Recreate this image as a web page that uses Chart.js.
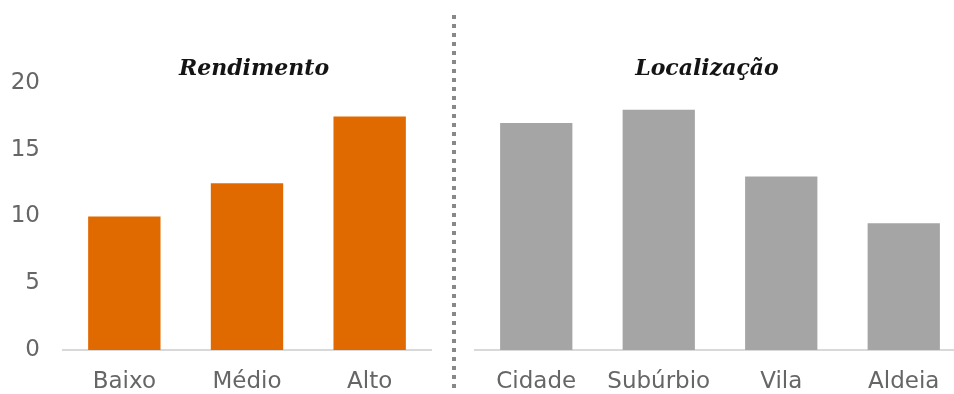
<!DOCTYPE html>
<html>
<head>
<meta charset="utf-8">
<script src="https://cdn.jsdelivr.net/npm/chart.js@4"></script>
<style>
    html, body { margin: 0; padding: 0; background: #fff; overflow: hidden; }
    #stage { position: relative; width: 954px; height: 394px; overflow: hidden; }
    canvas { position: absolute; top: 0; }
    #leftChart { left: 0; }
    #rightChart { left: 453px; }
    .panelTitle {
        position: absolute; top: 56px; transform: translateX(-50%);
        font: italic bold 22px "DejaVu Serif", serif; line-height: 1;
        color: #141414; white-space: nowrap;
    }
    #divider {
        position: absolute; left: 452px; top: 15px; width: 4px; height: 375px;
        background: repeating-linear-gradient(to bottom, #888 0 4px, transparent 4px 9px);
    }
</style>
</head>
<body>
<div id="stage">
    <canvas id="leftChart" width="440" height="394"></canvas>
    <canvas id="rightChart" width="520" height="394"></canvas>
    <div id="divider"></div>
    <div class="panelTitle" style="left:254px">Rendimento</div>
    <div class="panelTitle" style="left:707px">Localização</div>
</div>
<script>
const incomeLabels = ["Baixo", "Médio", "Alto"];
const incomeValues = [10, 12.5, 17.5];
const placeLabels = ["Cidade", "Subúrbio", "Vila", "Aldeia"];
const placeValues = [17, 18, 13, 9.5];
const yTicks = [0, 5, 10, 15, 20];

const tickFont = { family: "DejaVu Sans", size: 23 };
const tickColor = "#666";

function makeBarChart(canvasId, labels, values, color, showY, padding) {
    return new Chart(document.getElementById(canvasId), {
        type: "bar",
        data: {
            labels: labels,
            datasets: [{
                data: values,
                backgroundColor: color,
                categoryPercentage: 1,
                barPercentage: 0.59
            }]
        },
        options: {
            responsive: false,
            animation: false,
            layout: { padding: padding },
            plugins: {
                legend: { display: false },
                tooltip: { enabled: false }
            },
            scales: {
                x: {
                    grid: { display: false, drawTicks: false },
                    border: { display: true, color: "#d9d9d9", width: 2 },
                    ticks: {
                        font: tickFont, color: tickColor, padding: 18,
                        maxRotation: 0, minRotation: 0, autoSkip: false
                    },
                    afterFit(scale) { scale.height = 44; }
                },
                y: {
                    display: showY,
                    min: 0,
                    max: 20,
                    afterBuildTicks(scale) { scale.ticks = yTicks.map(v => ({ value: v })); },
                    grid: { display: false, drawTicks: false },
                    border: { display: false },
                    ticks: { font: tickFont, color: tickColor, padding: 23 },
                    // fixed gutter for the value labels; the hidden axis takes no room
                    afterFit(scale) { scale.width = showY ? 63 : 0; }
                }
            }
        }
    });
}

makeBarChart("leftChart", incomeLabels, incomeValues, "#e06a00", true,
    { top: 83, right: 9, bottom: 0, left: 0 });
makeBarChart("rightChart", placeLabels, placeValues, "#a5a5a5", false,
    { top: 83, right: 8, bottom: 0, left: 22 });
</script>
</body>
</html>
